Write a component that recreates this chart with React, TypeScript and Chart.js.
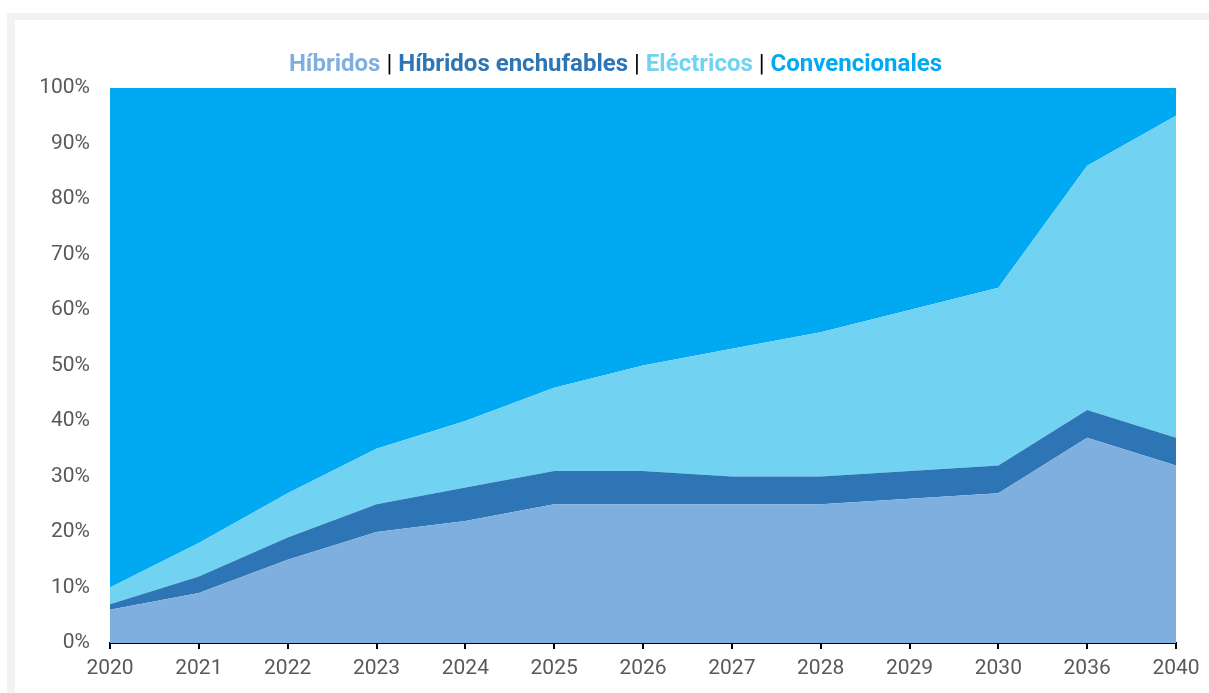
import React, { useEffect, useRef } from "react";
import { Chart, registerables } from "chart.js";

Chart.register(...registerables);

const years = ["2020", "2021", "2022", "2023", "2024", "2025", "2026", "2027", "2028", "2029", "2030", "2036", "2040"];
const hibridos = [6, 9, 15, 20, 22, 25, 25, 25, 25, 26, 27, 37, 32];
const enchufables = [1, 3, 4, 5, 6, 6, 6, 5, 5, 5, 5, 5, 5];
const electricos = [3, 6, 8, 10, 12, 15, 19, 23, 26, 29, 32, 44, 58];
const convencionales = [90, 82, 73, 65, 60, 54, 50, 47, 44, 40, 36, 14, 5];
const yTicks = [0, 10, 20, 30, 40, 50, 60, 70, 80, 90, 100];

const C_HIB = "#7fafdf";
const C_ENC = "#2e75b6";
const C_ELE = "#71d2f2";
const C_CON = "#00a9f2";

export default function App() {
  const ref = useRef<HTMLCanvasElement | null>(null);
  useEffect(() => {
    if (!ref.current) return;
    const mk = (label: string, data: number[], color: string, fill: any) => ({
      label,
      data,
      backgroundColor: color,
      borderColor: color,
      borderWidth: 0,
      pointRadius: 0,
      fill,
      tension: 0,
    });
    const chart = new Chart(ref.current, {
      type: "line",
      data: {
        labels: years,
        datasets: [
          mk("Híbridos", hibridos, C_HIB, "origin"),
          mk("Híbridos enchufables", enchufables, C_ENC, "-1"),
          mk("Eléctricos", electricos, C_ELE, "-1"),
          mk("Convencionales", convencionales, C_CON, "-1"),
        ],
      },
      options: {
        animation: false,
        responsive: false,
        maintainAspectRatio: false,
        layout: { padding: { left: 0, top: 88, right: 33, bottom: 0 } },
        plugins: { legend: { display: false }, tooltip: { enabled: false }, title: { display: false } },
        scales: {
          x: {
            type: "category",
            offset: false,
            grid: { display: true, drawOnChartArea: false, drawTicks: true, tickLength: 6, color: "#000", lineWidth: 2 },
            border: { display: true, color: "#000", width: 2 },
            ticks: { color: "#595959", font: { family: "Roboto", size: 21 }, padding: 7, maxRotation: 0, autoSkip: false },
            afterFit: (s: any) => { s.height = 50; },
          },
          y: {
            stacked: true,
            min: 0,
            max: 100,
            afterBuildTicks: (s: any) => { s.ticks = yTicks.map((v) => ({ value: v })); },
            grid: { display: false },
            border: { display: false },
            ticks: { color: "#595959", font: { family: "Roboto", size: 21 }, padding: 12, callback: (v: any) => v + "%" },
            afterFit: (s: any) => { s.width = 110; },
          },
        },
      },
    });
    return () => chart.destroy();
  }, []);

  const sep = <span style={{ color: "#000", fontWeight: 400 }}> | </span>;
  return (
    <div style={{ position: "absolute", left: 0, top: 0, width: 1209, height: 693, background: "#fff", overflow: "hidden" }}>
      <div style={{ position: "absolute", left: 7, top: 13, width: 1202, height: 7, background: "#f2f2f2" }} />
      <div style={{ position: "absolute", left: 7, top: 13, width: 8, height: 680, background: "#f2f2f2" }} />
      <canvas ref={ref} width={1209} height={693} style={{ position: "absolute", left: 0, top: 0 }} />
      <div
        style={{
          position: "absolute",
          left: 0,
          width: 1231,
          top: 48,
          textAlign: "center",
          fontFamily: "Roboto",
          fontWeight: 700,
          fontSize: 24,
          lineHeight: "30px",
          whiteSpace: "pre",
        }}
      >
        <span style={{ color: C_HIB }}>Híbridos</span>
        {sep}
        <span style={{ color: C_ENC }}>Híbridos enchufables</span>
        {sep}
        <span style={{ color: C_ELE }}>Eléctricos</span>
        {sep}
        <span style={{ color: C_CON }}>Convencionales</span>
      </div>
    </div>
  );
}
